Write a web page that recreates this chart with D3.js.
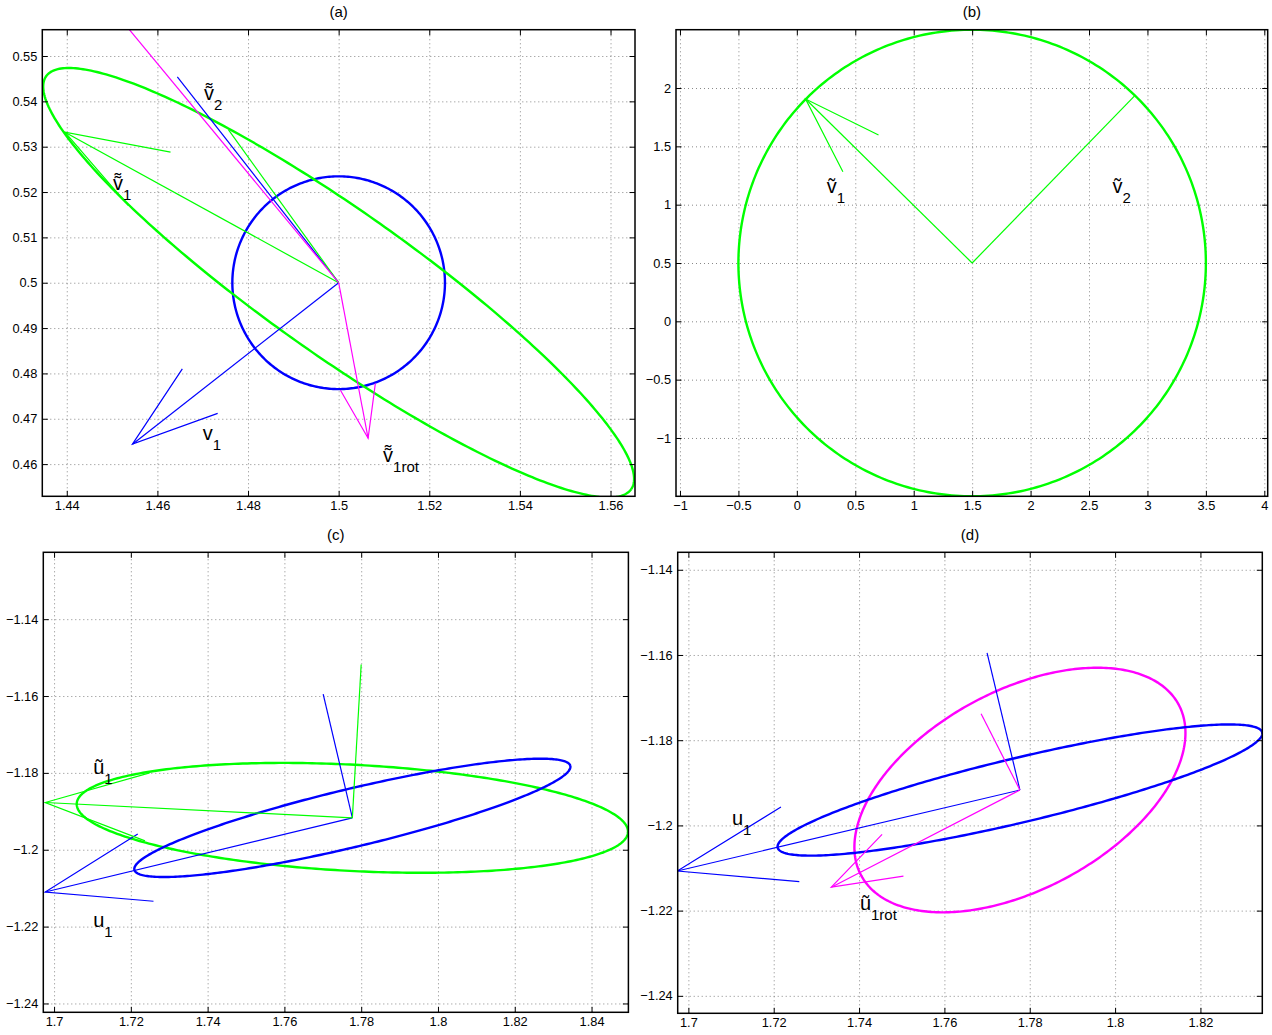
<!DOCTYPE html>
<html>
<head>
<meta charset="utf-8">
<script src="https://cdn.jsdelivr.net/npm/d3@7"></script>
<style>
  body { margin: 0; background: #fff; }
  svg { display: block; font-family: "Liberation Sans", Arial, Helvetica, sans-serif; }
  .tick text { font-size: 12.8px; fill: #000; }
  .vec-label { font-family: "Liberation Sans", "DejaVu Sans", sans-serif; }
</style>
</head>
<body>
<svg id="fig" width="1272" height="1035"></svg>
<script>
// ---------------- data ----------------
const panelTitles = ["(a)", "(b)", "(c)", "(d)"];

// axis limits
const xLimA = [1.4346, 1.5654], yLimA = [0.4529, 0.5558];
const xLimB = [-1.034, 4.029],  yLimB = [-1.5, 2.5];
const xLimC = [1.6972, 1.8496], yLimC = [-1.2423, -1.1226];
const xLimD = [1.6975, 1.8345], yLimD = [-1.2441, -1.1359];

// tick positions
const xTicksA = [1.44, 1.46, 1.48, 1.5, 1.52, 1.54, 1.56];
const yTicksA = [0.46, 0.47, 0.48, 0.49, 0.5, 0.51, 0.52, 0.53, 0.54, 0.55];
const xTicksB = [-1, -0.5, 0, 0.5, 1, 1.5, 2, 2.5, 3, 3.5, 4];
const yTicksB = [-1, -0.5, 0, 0.5, 1, 1.5, 2];
const xTicksC = [1.7, 1.72, 1.74, 1.76, 1.78, 1.8, 1.82, 1.84];
const yTicksC = [-1.24, -1.22, -1.2, -1.18, -1.16, -1.14];
const xTicksD = [1.7, 1.72, 1.74, 1.76, 1.78, 1.8, 1.82];
const yTicksD = [-1.24, -1.22, -1.2, -1.18, -1.16, -1.14];

// ellipses: [centreX, centreY, semi-axis 1, semi-axis 2, tilt (deg), series]
const ellipsesA = [
  [1.5, 0.5, 0.02346, 0.02346, 0, "blue"],
  [1.5, 0.5, 0.0790, 0.0159, -35.2, "green"]
];
const ellipsesB = [
  [1.5, 0.5, 2.0, 2.0, 0, "green"]
];
const ellipsesC = [
  [1.7777, -1.1917, 0.07189, 0.01382, -2.97, "green"],
  [1.7777, -1.1917, 0.05836, 0.00756, 13.4, "blue"]
];
const ellipsesD = [
  [1.7777, -1.1917, 0.04226, 0.0233, 28.4, "magenta"],
  [1.7777, -1.1917, 0.05836, 0.00756, 13.4, "blue"]
];

// vectors: [fromX, fromY, toX, toY, series]
const vectorsA = [
  [1.5, 0.5, 1.4545, 0.4644, "blue"],
  [1.5, 0.5, 1.4644, 0.5454, "blue"],
  [1.5, 0.5, 1.4396, 0.5332, "green"],
  [1.5, 0.5, 1.4757, 0.5337, "green"],
  [1.5, 0.5, 1.5065, 0.4657, "magenta"],
  [1.5, 0.5, 1.4520, 0.5580, "magenta"]
];
const vectorsB = [
  [1.5, 0.5, 0.075, 1.906, "green"],
  [1.5, 0.5, 2.888, 1.930, "green"]
];
const vectorsC = [
  [1.7777, -1.1917, 1.6977, -1.2110, "blue"],
  [1.7777, -1.1917, 1.7701, -1.1595, "blue"],
  [1.7777, -1.1917, 1.6977, -1.1877, "green"],
  [1.7777, -1.1917, 1.7800, -1.1518, "green"]
];
const vectorsD = [
  [1.7777, -1.1917, 1.6974, -1.2107, "blue"],
  [1.7777, -1.1917, 1.7700, -1.1595, "blue"],
  [1.7777, -1.1917, 1.7335, -1.2145, "magenta"],
  [1.7777, -1.1917, 1.7686, -1.1738, "magenta"]
];

// arrow heads: [tipX, tipY, wing1X, wing1Y, wing2X, wing2Y, series]
const headsA = [
  [1.4545, 0.4644, 1.4655, 0.4810, 1.4733, 0.4712, "blue"],
  [1.4396, 0.5332, 1.4629, 0.5288, 1.4536, 0.5170, "green"],
  [1.5065, 0.4657, 1.5004, 0.4763, 1.5081, 0.4778, "magenta"]
];
const headsB = [
  [0.075, 1.906, 0.699, 1.597, 0.394, 1.283, "green"]
];
const headsC = [
  [1.6977, -1.2110, 1.7218, -1.1959, 1.7259, -1.2134, "blue"],
  [1.6977, -1.1877, 1.7249, -1.1800, 1.7237, -1.1977, "green"]
];
const headsD = [
  [1.6974, -1.2107, 1.7217, -1.1957, 1.7260, -1.2132, "blue"],
  [1.7335, -1.2145, 1.7454, -1.2021, 1.7504, -1.2119, "magenta"]
];

// annotations: [x, y, symbol (with accent), subscript]
const labelsA = [
  [1.4703, 0.5403, "v\u034C", "2"],
  [1.4502, 0.5204, "v\u034C", "1"],
  [1.4700, 0.4653, "v", "1"],
  [1.5098, 0.4605, "v\u034C", "1rot"]
];
const labelsB = [
  [0.255, 1.10, "v\u0303", "1"],
  [2.700, 1.10, "v\u0303", "2"]
];
const labelsC = [
  [1.7102, -1.1802, "u\u0303", "1"],
  [1.7102, -1.2201, "u", "1"]
];
const labelsD = [
  [1.7102, -1.1998, "u", "1"],
  [1.7402, -1.2198, "u\u0303", "1rot"]
];

// ---------------- drawing ----------------
const seriesColour = { blue: "#0000ff", green: "#00ff00", magenta: "#ff00ff" };

const panels = [
  { title: panelTitles[0], box: [42.3, 635, 29.7, 496.3], xLim: xLimA, yLim: yLimA, xTicks: xTicksA, yTicks: yTicksA,
    ellipses: ellipsesA, vectors: vectorsA, heads: headsA, labels: labelsA },
  { title: panelTitles[1], box: [676, 1267.7, 29.7, 496.3], xLim: xLimB, yLim: yLimB, xTicks: xTicksB, yTicks: yTicksB,
    ellipses: ellipsesB, vectors: vectorsB, heads: headsB, labels: labelsB },
  { title: panelTitles[2], box: [43.3, 628.4, 552.3, 1012.3], xLim: xLimC, yLim: yLimC, xTicks: xTicksC, yTicks: yTicksC,
    ellipses: ellipsesC, vectors: vectorsC, heads: headsC, labels: labelsC },
  { title: panelTitles[3], box: [677.7, 1262.3, 552.3, 1013.3], xLim: xLimD, yLim: yLimD, xTicks: xTicksD, yTicks: yTicksD,
    ellipses: ellipsesD, vectors: vectorsD, heads: headsD, labels: labelsD }
];

const fmt = v => String(+v.toFixed(4)).replace("-", "\u2212");
const svg = d3.select("#fig");
const TICK = 5.5;
const LETTER_SIZE = 20, SUB_SIZE = 15;

panels.forEach((p, i) => {
  const [x0, x1, y0, y1] = p.box;
  const w = x1 - x0, h = y1 - y0;
  const x = d3.scaleLinear().domain(p.xLim).range([0, w]);
  const y = d3.scaleLinear().domain(p.yLim).range([h, 0]);

  const g = svg.append("g").attr("transform", `translate(${x0},${y0})`);

  // clip region
  const clipId = "clip" + i;
  g.append("clipPath").attr("id", clipId).append("rect").attr("width", w).attr("height", h);

  // dotted grid
  const gridStyle = sel => {
    sel.select(".domain").remove();
    sel.selectAll(".tick line").attr("stroke", "#7a7a7a").attr("stroke-width", 0.9)
      .attr("stroke-dasharray", "1,3");
  };
  g.append("g").attr("transform", `translate(0,${h})`)
    .call(d3.axisBottom(x).tickValues(p.xTicks).tickSize(-h).tickFormat(""))
    .call(gridStyle);
  g.append("g")
    .call(d3.axisLeft(y).tickValues(p.yTicks).tickSize(-w).tickFormat(""))
    .call(gridStyle);

  // data layer
  const plot = g.append("g").attr("clip-path", `url(#${clipId})`);
  const line = d3.line().x(d => x(d[0])).y(d => y(d[1]));

  p.ellipses.forEach(([cx, cy, a, b, tilt, s]) => {
    const phi = tilt * Math.PI / 180;
    const pts = d3.range(0, 361, 1).map(deg => {
      const t = deg * Math.PI / 180;
      return [cx + a * Math.cos(t) * Math.cos(phi) - b * Math.sin(t) * Math.sin(phi),
              cy + a * Math.cos(t) * Math.sin(phi) + b * Math.sin(t) * Math.cos(phi)];
    });
    plot.append("path").attr("d", line(pts)).attr("fill", "none")
      .attr("stroke", seriesColour[s]).attr("stroke-width", 2.4);
  });

  p.vectors.forEach(([fx, fy, tx, ty, s]) => {
    plot.append("path").attr("d", line([[fx, fy], [tx, ty]])).attr("fill", "none")
      .attr("stroke", seriesColour[s]).attr("stroke-width", 1.2);
  });

  p.heads.forEach(([tx, ty, ax, ay, bx, by, s]) => {
    plot.append("path").attr("d", line([[ax, ay], [tx, ty], [bx, by]])).attr("fill", "none")
      .attr("stroke", seriesColour[s]).attr("stroke-width", 1.2).attr("stroke-linejoin", "miter");
  });

  // axes: inward ticks on all four sides
  const axisStyle = sel => {
    sel.select(".domain").remove();
    sel.selectAll(".tick line").attr("stroke", "#000").attr("stroke-width", 1);
  };
  g.append("g").attr("transform", `translate(0,${h})`)
    .call(d3.axisBottom(x).tickValues(p.xTicks).tickSize(-TICK).tickPadding(5).tickFormat(fmt))
    .call(axisStyle)
    .call(s => s.selectAll("text").attr("font-family", null).attr("font-size", null));
  g.append("g")
    .call(d3.axisTop(x).tickValues(p.xTicks).tickSize(-TICK).tickFormat(""))
    .call(axisStyle);
  g.append("g")
    .call(d3.axisLeft(y).tickValues(p.yTicks).tickSize(-TICK).tickPadding(5).tickFormat(fmt))
    .call(axisStyle)
    .call(s => s.selectAll("text").attr("font-family", null).attr("font-size", null));
  g.append("g").attr("transform", `translate(${w},0)`)
    .call(d3.axisRight(y).tickValues(p.yTicks).tickSize(-TICK).tickFormat(""))
    .call(axisStyle);

  // frame
  g.append("rect").attr("width", w).attr("height", h).attr("fill", "none")
    .attr("stroke", "#000").attr("stroke-width", 1.5);

  // title
  g.append("text").attr("x", w / 2).attr("y", -12.5).attr("text-anchor", "middle")
    .attr("font-size", 15).text(p.title);

  // vector annotations: accented symbol followed by a lowered subscript
  p.labels.forEach(([lx, ly, symbol, sub]) => {
    const t = g.append("text").attr("class", "vec-label")
      .attr("x", x(lx)).attr("y", y(ly));
    t.append("tspan").attr("font-size", LETTER_SIZE).text(symbol);
    t.append("tspan").attr("font-size", SUB_SIZE).attr("dy", 10).text(sub);
  });
});
</script>
</body>
</html>
